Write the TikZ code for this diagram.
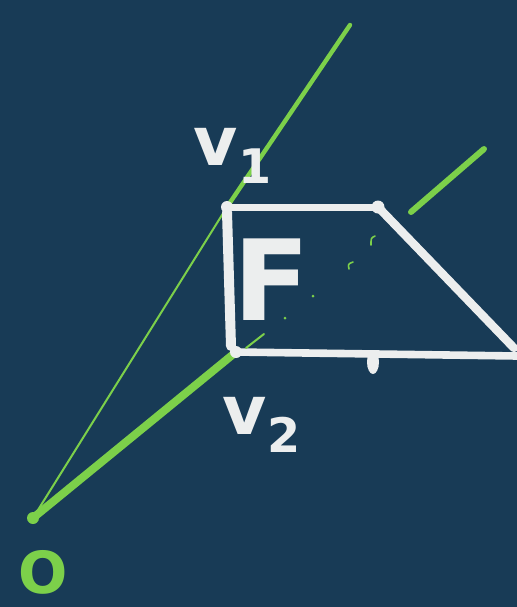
\documentclass[tikz,border=0pt]{standalone}
\usepackage{tikz}
\usepackage{xcolor}
\usepackage{fontspec}
\setmainfont{DejaVu Sans}
\definecolor{board}{RGB}{24,59,86}
\definecolor{chalkgreen}{RGB}{124,208,74}
\definecolor{chalkwhite}{RGB}{236,238,238}

\begin{document}
\begin{tikzpicture}[x=0.5pt,y=-0.5pt,line cap=round,line join=round]
\fill[board] (0,0) rectangle (517,607);
\useasboundingbox (0,0) rectangle (517,607);
% points of the face
\coordinate (O) at (33,518);
\coordinate (v1) at (227,207);
\coordinate (tr) at (378,207);
\coordinate (br) at (514,348);
\coordinate (v2) at (236,352);
\coordinate (bb) at (517,356);
\coordinate (tip) at (350,25);
\coordinate (arr1) at (484,149);
\coordinate (arr2) at (411,212);
% green rays from O
\draw[chalkgreen,line width=1pt] (O) -- (v1);
\draw[chalkgreen,line width=2.2pt] (v1) -- (tip);
\draw[chalkgreen,line width=4pt] (O) -- (v2);
\draw[chalkgreen,line width=3pt] (arr1) -- (arr2);
\fill[chalkgreen] (O) circle (6);
% white face
\draw[chalkwhite,line width=3.5pt] (v1) -- (tr);
\draw[chalkwhite,line width=4.2pt] (tr) -- (br);
\draw[chalkwhite,line width=3.8pt] (v2) -- (bb);
\draw[chalkwhite,line width=5pt] (227,212) -- (231,346);
\fill[chalkwhite] (v1) circle (6);
\fill[chalkwhite] (tr) circle (6.5);
\fill[chalkwhite] (v2) circle (6);
\fill[chalkwhite] (373,362) ellipse (6 and 12);
% small marks
\draw[chalkgreen,line width=0.8pt] (375,236) .. controls (371,238) .. (371,245);
\draw[chalkgreen,line width=0.8pt] (353,262) .. controls (348,264) .. (349,269);
\fill[chalkgreen] (313,296) circle (1.5);
\fill[chalkgreen] (285,318) circle (1.5);
\draw[chalkgreen,line width=1pt] (264,334) -- (246,348);
% labels
\node[chalkwhite,inner sep=0] (v1label) at (233,156) {\fontsize{34}{40}\selectfont\bfseries v\textsubscript{1}};
\node[chalkwhite,inner sep=0] (v2label) at (262,425) {\fontsize{34}{40}\selectfont\bfseries v\textsubscript{2}};
\node[chalkwhite,inner sep=0] (Flabel) at (272,280) {\fontsize{56}{64}\selectfont\bfseries F};
\node[chalkgreen,inner sep=0] (Olabel) at (43,572) {\fontsize{29}{34}\selectfont\bfseries O};
\end{tikzpicture}
\end{document}
